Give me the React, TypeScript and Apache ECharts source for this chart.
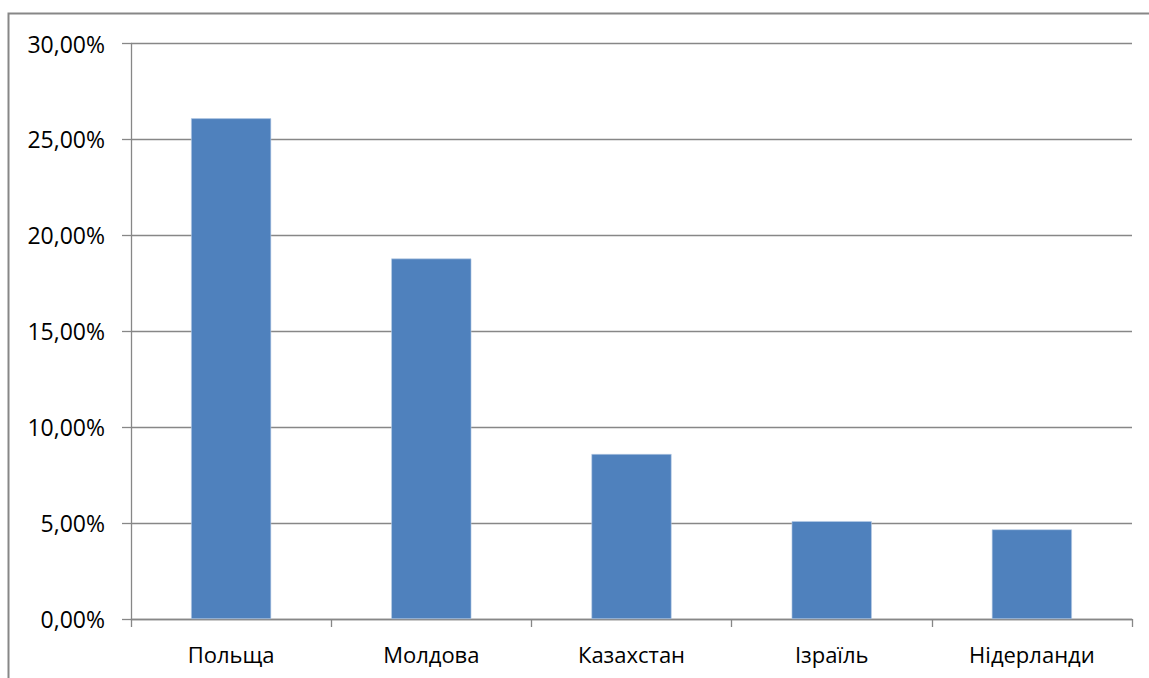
import React, { useEffect, useRef } from "react";
import * as echarts from "echarts";

const categories = ["Польща", "Молдова", "Казахстан", "Ізраїль", "Нідерланди"];
const values = [26.1, 18.79, 8.6, 5.1, 4.67];
const yTicks = [0, 5, 10, 15, 20, 25, 30];

export default function App() {
  const ref = useRef<HTMLDivElement>(null);
  useEffect(() => {
    if (!ref.current) return;
    const chart = echarts.init(ref.current, undefined, { renderer: "svg" });
    const font = "'Open Sans', sans-serif";
    chart.setOption({
      animation: false,
      backgroundColor: "#ffffff",
      graphic: [
        {
          type: "rect",
          shape: { x: 8.5, y: 13.5, width: 1200, height: 700 },
          style: { fill: "none", stroke: "#878787", lineWidth: 2 },
          silent: true,
          z: -1,
        },
      ],
      grid: { left: 131, right: 17, top: 43.5, bottom: 59 },
      xAxis: {
        type: "category",
        data: categories,
        axisLine: { show: true, lineStyle: { color: "#878787", width: 1.3 } },
        axisTick: { show: true, length: 8, alignWithLabel: false, lineStyle: { color: "#878787", width: 1.3 } },
        axisLabel: { color: "#000", fontFamily: font, fontSize: 22, margin: 24, lineHeight: 22 },
        splitLine: { show: false },
      },
      yAxis: {
        type: "value",
        min: yTicks[0],
        max: yTicks[yTicks.length - 1],
        interval: 5,
        axisLine: { show: true, lineStyle: { color: "#878787", width: 1.3 } },
        axisTick: { show: true, length: 9, lineStyle: { color: "#878787", width: 1.3 } },
        axisLabel: {
          color: "#000",
          fontFamily: font,
          fontSize: 23,
          margin: 26,
          formatter: (v: number) => v.toFixed(2).replace(".", ",") + "%",
        },
        splitLine: { show: true, lineStyle: { color: "#878787", width: 1.3 } },
      },
      series: [
        {
          type: "bar",
          data: values,
          barCategoryGap: "60%",
          itemStyle: { color: "#4F81BD", borderColor: "#B9CDE5", borderWidth: 0.6 },
        },
      ],
    });
    return () => chart.dispose();
  }, []);
  return (
    <div
      ref={ref}
      style={{ position: "fixed", left: 0, top: 0, width: 1149, height: 678 }}
    />
  );
}
